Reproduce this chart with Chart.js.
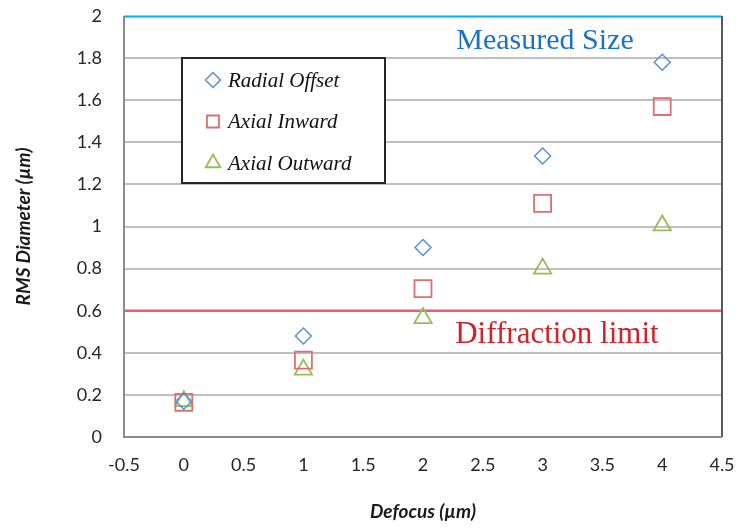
<!DOCTYPE html>
<html>
<head>
<meta charset="utf-8">
<script src="https://cdn.jsdelivr.net/npm/chart.js@4.4.0/dist/chart.umd.min.js"></script>
<style>
  html, body { margin: 0; padding: 0; background: #fff; }
  #wrap { width: 741px; height: 529px; }
</style>
</head>
<body>
<div id="wrap"><canvas id="myChart" width="741" height="529"></canvas></div>
<script>
// data
var defocus = [0, 1, 2, 3, 4];
var radialOffset = [0.17, 0.48, 0.90, 1.335, 1.78];
var axialInward = [0.165, 0.365, 0.705, 1.11, 1.57];
var axialOutward = [0.17, 0.32, 0.565, 0.80, 1.005];
var lineSpan = [-0.5, 4.5];
var measuredSize = 2;
var diffractionLimit = 0.6;

function pts(xs, ys) {
    return xs.map((x, i) => ({ x: x, y: ys[i] }));
}

var tickFont = { family: 'Lato', size: 18 };
var titleFont = { family: 'Lato', size: 19, weight: 'bold', style: 'italic' };

// legend box, plot border and text labels
var overlay = {
    id: 'overlay',
    afterDatasetsDraw(chart) {
        var c = chart.ctx, a = chart.chartArea;
        var sx = chart.scales.x, sy = chart.scales.y;
        c.save();
        c.strokeStyle = '#595959';
        c.lineWidth = 2;
        c.beginPath();
        c.moveTo(a.right, a.top);
        c.lineTo(a.right, a.bottom);
        c.stroke();
        c.strokeStyle = '#8c8c8c';
        c.beginPath();
        c.moveTo(a.left, a.top);
        c.lineTo(a.left, a.bottom);
        c.lineTo(a.right, a.bottom);
        c.stroke();

        c.font = '30px "Liberation Serif"';
        c.textBaseline = 'middle';
        c.textAlign = 'center';
        c.fillStyle = '#1a72c4';
        c.fillText('Measured Size', sx.getPixelForValue(3.02), sy.getPixelForValue(1.88));
        c.font = '31px "Liberation Serif"';
        c.fillStyle = '#d0222b';
        c.fillText('Diffraction limit', sx.getPixelForValue(3.12), sy.getPixelForValue(0.485));

        var bx = 182, by = 58, bw = 203, bh = 125;
        c.fillStyle = '#fff';
        c.fillRect(bx, by, bw, bh);
        c.strokeStyle = '#262626';
        c.lineWidth = 2;
        c.strokeRect(bx, by, bw, bh);
        var items = chart.data.datasets.filter(d => !d.hideLegend);
        items.forEach((d, i) => {
            var y = by + 22 + i * 41.5;
            c.strokeStyle = d.borderColor;
            c.lineWidth = d.borderWidth;
            c.fillStyle = 'rgba(0,0,0,0)';
            Chart.helpers.drawPoint(c, {
                pointStyle: d.pointStyle, radius: d.legendRadius,
                borderWidth: d.borderWidth, rotation: 0
            }, 213, y);
            c.fillStyle = '#111';
            c.textAlign = 'left';
            c.font = 'italic 21px "Liberation Serif"';
            c.fillText(d.label, 228, y + 1);
        });
        c.restore();
    }
};

var ctx = document.getElementById('myChart').getContext('2d');
var myChart = new Chart(ctx, {
    type: 'scatter',
    data: {
        datasets: [{
            label: 'Radial Offset',
            data: pts(defocus, radialOffset),
            pointStyle: 'rectRot',
            pointRadius: 8,
            legendRadius: 7.5,
            borderColor: '#5b8fd4',
            backgroundColor: 'rgba(0,0,0,0)',
            borderWidth: 1.5
        }, {
            label: 'Axial Inward',
            data: pts(defocus, axialInward),
            pointStyle: 'rect',
            pointRadius: 12,
            legendRadius: 8.5,
            borderColor: '#d8716f',
            backgroundColor: 'rgba(0,0,0,0)',
            borderWidth: 1.8
        }, {
            label: 'Axial Outward',
            data: pts(defocus, axialOutward),
            pointStyle: 'triangle',
            pointRadius: 10,
            legendRadius: 8.5,
            borderColor: '#9bbb59',
            backgroundColor: 'rgba(0,0,0,0)',
            borderWidth: 1.8
        }, {
            label: 'Measured Size',
            hideLegend: true,
            data: pts(lineSpan, [measuredSize, measuredSize]),
            showLine: true,
            pointRadius: 0,
            borderColor: '#00b0f0',
            borderWidth: 3
        }, {
            label: 'Diffraction limit',
            hideLegend: true,
            data: pts(lineSpan, [diffractionLimit, diffractionLimit]),
            showLine: true,
            pointRadius: 0,
            borderColor: '#e8606e',
            borderWidth: 2.5
        }]
    },
    options: {
        responsive: false,
        animation: false,
        layout: { padding: { top: 16, right: 19, left: 0, bottom: 0 } },
        plugins: {
            legend: { display: false },
            tooltip: { enabled: false }
        },
        scales: {
            x: {
                type: 'linear',
                min: -0.5,
                max: 4.5,
                ticks: { stepSize: 0.5, color: '#262626', font: tickFont, padding: 17,
                    callback: v => String(Math.round(v * 10) / 10) },
                grid: { display: false, drawTicks: false },
                border: { display: false },
                title: {
                    display: true,
                    text: 'Defocus (µm)',
                    color: '#1a1a1a',
                    font: titleFont,
                    padding: { top: 4, bottom: 6 }
                },
                afterFit: function (scale) {
                    scale.height = 92;
                    scale.paddingLeft = 0;
                    scale.paddingRight = 0;
                }
            },
            y: {
                min: 0,
                max: 2,
                ticks: { stepSize: 0.2, color: '#262626', font: tickFont, padding: 22,
                    callback: v => String(Math.round(v * 10) / 10) },
                grid: { color: '#bfbfbf', lineWidth: 2, drawTicks: false },
                border: { display: false },
                title: {
                    display: true,
                    text: 'RMS Diameter (µm)',
                    color: '#1a1a1a',
                    font: titleFont,
                    padding: { top: 12, bottom: 4 }
                },
                afterFit: function (scale) {
                    scale.width = 124;
                    scale.paddingTop = 0;
                    scale.paddingBottom = 0;
                }
            }
        }
    },
    plugins: [overlay]
});
</script>
</body>
</html>
